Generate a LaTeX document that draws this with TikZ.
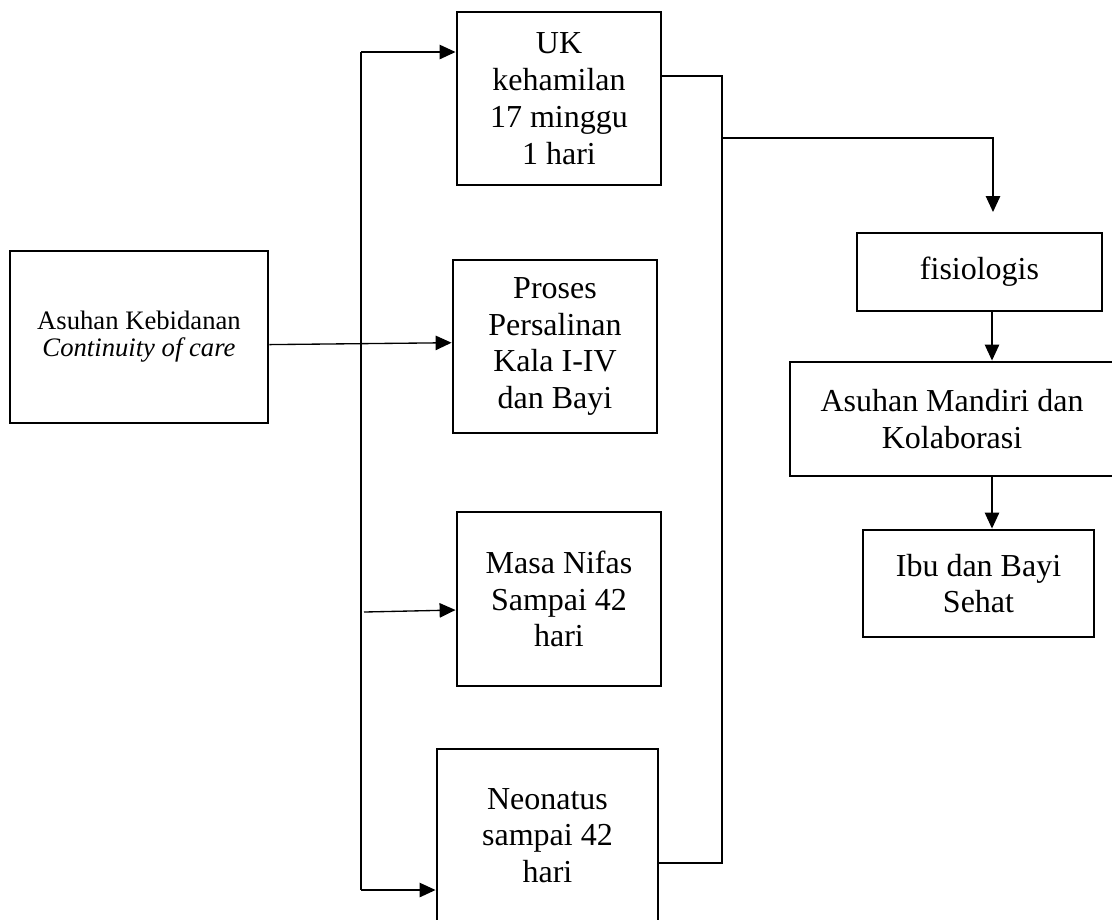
\documentclass[tikz,border=0pt]{standalone}
\usepackage{fontspec}
\setmainfont{Liberation Serif}
\usetikzlibrary{arrows.meta}
\newcommand{\pxu}{0.01318cm}

\begin{document}
\begin{tikzpicture}[
    x=0.01318cm, y=-0.01318cm,
    box/.style={
        draw, line width=1.1pt, align=center, inner sep=0pt,
        font=\fontsize{12}{13.8}\selectfont
    },
    link/.style={line width=0.5pt},
    arr/.style={link, -{Triangle[length=0.21cm,width=0.19cm]}}
]
\useasboundingbox (0,0) rectangle (1112,919);

% starting point
\node[box, minimum width=258*\pxu, minimum height=172*\pxu,
    font=\fontsize{10}{10.2}\selectfont] (ak) at (139,337)
    {Asuhan Kebidanan\\\textit{Continuity of care}};

% middle column
\foreach \name/\cx/\cy/\w/\h/\txt in {%
    uk/559/98.5/204/173/{UK\\kehamilan\\17 minggu\\1 hari},
    pp/555/346.5/204/173/{Proses\\Persalinan\\Kala I-IV\\dan Bayi},
    mn/559/599/204/174/{Masa Nifas\\Sampai 42\\hari},
    neo/547.5/835.5/221/173/{Neonatus\\sampai 42\\hari}%
} {
    \node[box, minimum width=\w*\pxu, minimum height=\h*\pxu] (\name) at (\cx,\cy) {\txt};
}

% right column
\node[box, minimum width=245*\pxu, minimum height=78*\pxu] (fis) at (979.5,272) {fisiologis};
\node[box, minimum width=324*\pxu, minimum height=114*\pxu] (am) at (952,419)
    {Asuhan Mandiri dan\\Kolaborasi};
\node[box, minimum width=231*\pxu, minimum height=107*\pxu] (ibu) at (978.5,583.5)
    {Ibu dan Bayi\\Sehat};

\coordinate (busT) at (361,52);
\coordinate (busB) at (361,890);
\coordinate (nifas) at (364,612);
\coordinate (busR) at (722,76);
\coordinate (busRB) at (722,863);
\coordinate (split) at (722,138);
\coordinate (fisIn) at (993,212);
\coordinate (colR) at (992,0);

% connectors
\draw[link] (busT) -- (busB);
\draw[arr] (busT) -- (busT -| uk.west);
\draw[arr] (busB) -- (busB -| neo.west);
\draw[arr] ([yshift=-0.1cm]ak.east) -- ([yshift=0.05cm]pp.west);
\draw[arr] (nifas) -- ([yshift=-0.145cm]mn.west);
\draw[link] (uk.east |- busR) -- (busR) -- (busRB) -- (neo.east |- busRB);
\draw[arr] (split) -| (fisIn);
\draw[arr] (fis.south -| colR) -- (am.north -| colR);
\draw[arr] (am.south -| colR) -- (ibu.north -| colR);
\end{tikzpicture}
\end{document}
